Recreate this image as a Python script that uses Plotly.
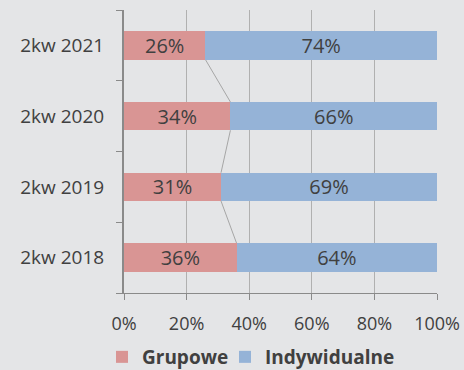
import plotly.graph_objects as go

# Share of policy types per quarter (fractions of 1)
quarters = ["2kw 2018", "2kw 2019", "2kw 2020", "2kw 2021"]
grupowe = [0.36, 0.31, 0.34, 0.26]
indywidualne = [0.64, 0.69, 0.66, 0.74]
series_names = ["Grupowe", "Indywidualne"]
x_ticks = [0, 0.2, 0.4, 0.6, 0.8, 1.0]

BG = "#e4e5e7"
TXT = "#404040"
GRID = "#b0b0b0"
AXIS = "#8a8a8a"
COLORS = ["#d99594", "#95b3d7"]
BARGAP = 0.6
FONT = "Open Sans, Carlito, sans-serif"

fig = go.Figure()
for k, (name, vals, col) in enumerate(zip(series_names, [grupowe, indywidualne], COLORS)):
    fig.add_trace(go.Bar(
        y=quarters, x=vals, name=name, orientation="h",
        marker=dict(color=col, line=dict(width=0)),
        text=[f"{round(v * 100)}%" for v in vals],
        textposition="inside", insidetextanchor="middle", constraintext="none",
        textfont=dict(family=FONT, size=20, color=TXT),
        legend="legend" if k == 0 else "legend2",
        hoverinfo="skip",
    ))

# Series lines joining the Grupowe boundary between neighbouring bars
half = (1 - BARGAP) / 2
for i in range(len(quarters) - 1, 0, -1):
    fig.add_shape(type="line", xref="x", yref="y",
                  x0=grupowe[i], y0=i - half, x1=grupowe[i - 1], y1=(i - 1) + half,
                  line=dict(color="#a6a6a6", width=1), layer="below")

legend_style = dict(orientation="h", xanchor="left",
                    yref="container", y=13 / 370, yanchor="middle", xref="container",
                    font=dict(family=FONT, size=19, color=TXT, weight="bold"),
                    itemwidth=30, bgcolor="rgba(0,0,0,0)")

fig.update_layout(
    width=464, height=370,
    margin=dict(l=124, r=27, t=10, b=77, autoexpand=False),
    paper_bgcolor=BG, plot_bgcolor=BG,
    barmode="stack", bargap=BARGAP,
    font=dict(family=FONT, size=18, color=TXT),
    showlegend=True,
    legend=dict(x=102 / 464, **legend_style),
    legend2=dict(x=225 / 464, **legend_style),
    xaxis=dict(range=[0, 1], tickvals=x_ticks, tickformat=".0%",
               showgrid=True, gridcolor=GRID, gridwidth=1,
               showline=True, linecolor=AXIS, linewidth=1,
               ticks="outside", ticklen=6, tickcolor=AXIS,
               ticklabelstandoff=8, automargin=False,
               zeroline=False, tickfont=dict(size=18, color=TXT), fixedrange=True),
    yaxis=dict(categoryorder="array", categoryarray=quarters,
               showline=True, linecolor=AXIS, linewidth=2,
               ticks="outside", ticklen=6, tickcolor=AXIS, tickson="boundaries",
               showgrid=False, ticklabelstandoff=14, automargin=False,
               tickfont=dict(size=19, color=TXT), fixedrange=True),
)

fig.write_html("out.html")
